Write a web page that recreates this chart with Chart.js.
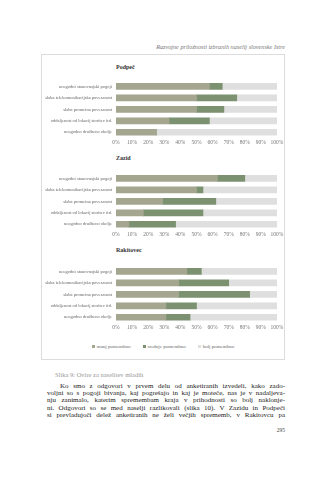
<!DOCTYPE html>
<html><head><meta charset="utf-8">
<script src="https://cdn.jsdelivr.net/npm/chart.js@4"></script>
<style>
body{margin:0;width:326px;height:480px;background:#fff;position:relative;overflow:hidden;font-family:"Liberation Serif",serif;}
.abs{position:absolute}
#hdr{left:100px;width:185px;top:43px;text-align:right;font-style:italic;font-size:6.2px;color:#777;white-space:nowrap}
#box{left:41px;top:54px;border:1px solid #dcdcdc;box-sizing:border-box;width:244px;height:306px}
.ttl{left:116px;font-weight:bold;font-size:6px;color:#333;line-height:6px}
canvas.c{position:absolute;left:41px}
#legend{left:41px;width:244px;top:344px;text-align:center;font-size:5px;color:#666;line-height:6px;white-space:nowrap}
#legend span.sw{display:inline-block;width:3px;height:3px;margin-right:2px;vertical-align:middle}
#legend span.it{margin:0 6px}
#cap{left:55px;top:371px;font-size:6.5px;color:#999;white-space:nowrap}
#para{left:47px;top:383px;width:238px;font-size:7px;line-height:7.2px;color:#222}
#para div{text-align:justify;text-align-last:justify;white-space:nowrap;overflow:visible}
#pg{left:270px;width:15px;text-align:right;top:427px;font-size:5.5px;color:#444}
</style>
</head><body>
<div id="hdr" class="abs">Razvojne priložnosti izbranih naselij slovenske Istre</div>
<div id="box" class="abs"></div>
<div class="abs ttl" style="top:64px">Podpeč</div>
<div class="abs ttl" style="top:155px">Zazid</div>
<div class="abs ttl" style="top:247px">Rakitovec</div>
<canvas class="c" id="c1" width="244" height="74" style="top:74px"></canvas>
<canvas class="c" id="c2" width="244" height="74" style="top:166px"></canvas>
<canvas class="c" id="c3" width="244" height="74" style="top:259px"></canvas>
<div id="legend" class="abs"></div>
<div id="cap" class="abs">Slika 9: Ovire za naselitev mladih</div>
<div id="para" class="abs">
<div style="text-indent:13px">Ko smo z odgovori v prvem delu od anketiranih izvedeli, kako zado-</div>
<div>voljni so s pogoji bivanja, kaj pogrešajo in kaj je moteče, nas je v nadaljeva-</div>
<div>nju zanimalo, katerim spremembam kraja v prihodnosti so bolj naklonje-</div>
<div>ni. Odgovori so se med naselji razlikovali (slika 10). V Zazidu in Podpeči</div>
<div>si prevladujoči delež anketiranih ne želi večjih sprememb, v Rakitovcu pa</div>
</div>
<div id="pg" class="abs">295</div>
<script>
const categories = ["neugodni stanovanjski pogoji","slaba telekomunikacijska povezanost","slaba prometna povezanost","oddaljenost od lokacij storitev itd.","neugodno družbeno okolje"];
const seriesNames = ["manj pomembno","srednje pomembno","bolj pomembno"];
const seriesColors = ["#a4a690","#7b9170","#dedfde"];
const xTicks = [0,10,20,30,40,50,60,70,80,90,100];

const podpecManj = [58,50,50,33,25];
const podpecSrednje = [8,25,17,25,0];
const podpecBolj = [34,25,33,42,75];

const zazidManj = [63,50,29,17,8];
const zazidSrednje = [17,4,33,37,29];
const zazidBolj = [20,46,38,46,63];

const rakitovecManj = [44,39,39,31,31];
const rakitovecSrednje = [9,31,44,19,15];
const rakitovecBolj = [47,30,17,50,54];

function make(id, sets){
  new Chart(document.getElementById(id), {
    type:'bar',
    data:{labels:categories, datasets:sets.map((d,i)=>({label:seriesNames[i],data:d,backgroundColor:seriesColors[i],barThickness:6,borderWidth:0}))},
    options:{
      indexAxis:'y',responsive:false,animation:false,devicePixelRatio:1,
      layout:{padding:{left:0,right:8,top:0,bottom:0}},
      plugins:{legend:{display:false},title:{display:false},tooltip:{enabled:false}},
      scales:{
        x:{stacked:true,min:0,max:100,afterBuildTicks:s=>{s.ticks=xTicks.map(v=>({value:v}));},
           grid:{display:false,drawTicks:false},border:{display:false},
           ticks:{font:{family:'Liberation Serif',size:5.5},color:'#777',padding:1,maxRotation:0,autoSkip:false,callback:v=>v+'%'},
           afterFit:s=>{s.height=10;}},
        y:{stacked:true,grid:{display:false,drawTicks:false},border:{display:false},
           ticks:{font:{family:'Liberation Serif',size:4.5},color:'#666',padding:4,autoSkip:false},
           afterFit:s=>{s.width=75;}}
      }
    }
  });
}
make('c1',[podpecManj,podpecSrednje,podpecBolj]);
make('c2',[zazidManj,zazidSrednje,zazidBolj]);
make('c3',[rakitovecManj,rakitovecSrednje,rakitovecBolj]);

const lg=document.getElementById('legend');
lg.innerHTML=seriesNames.map((n,i)=>'<span class="it"><span class="sw" style="background:'+seriesColors[i]+'"></span>'+n+'</span>').join('');
</script>
</body></html>
